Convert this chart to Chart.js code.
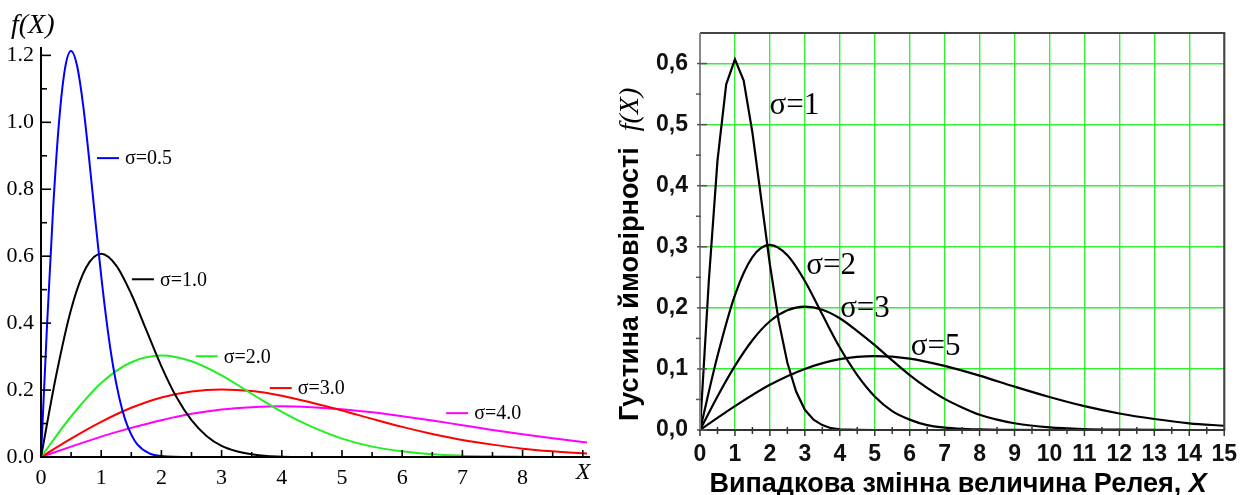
<!DOCTYPE html>
<html>
<head>
<meta charset="utf-8">
<script src="https://cdn.jsdelivr.net/npm/chart.js@4.4.1/dist/chart.umd.min.js"></script>
<style>
  html, body { margin: 0; padding: 0; background: #fff; }
  #wrap { position: relative; width: 1248px; height: 495px; overflow: hidden; }
  canvas { position: absolute; top: 0; }
  #left { left: 0; }
  #right { left: 600px; }
</style>
</head>
<body>
<div id="wrap">
  <canvas id="left" width="600" height="495"></canvas>
  <canvas id="right" width="648" height="495"></canvas>
</div>
<script>
// ---------- Left panel: Rayleigh densities, sigma = 0.5 .. 4.0 ----------
const leftX05 = [0, 0.1, 0.2, 0.3, 0.4, 0.5, 0.6, 0.7, 0.8, 0.9, 1.0, 1.1, 1.2, 1.3, 1.4, 1.5, 1.6, 1.8, 2.0, 2.5, 3, 4, 5, 6, 7, 8, 9, 9.1];
const leftY05 = [0, 0.392, 0.738, 1.002, 1.162, 1.213, 1.168, 1.051, 0.890, 0.712, 0.541, 0.391, 0.269, 0.177, 0.111, 0.067, 0.038, 0.011, 0.003, 0, 0, 0, 0, 0, 0, 0, 0, 0];

const leftX10 = [0, 0.25, 0.5, 0.75, 1, 1.25, 1.5, 1.75, 2, 2.25, 2.5, 2.75, 3, 3.25, 3.5, 3.75, 4, 4.5, 5, 6, 7, 8, 9, 9.1];
const leftY10 = [0, 0.242, 0.441, 0.566, 0.607, 0.572, 0.487, 0.379, 0.271, 0.179, 0.110, 0.063, 0.033, 0.017, 0.008, 0.003, 0.001, 0.0002, 0, 0, 0, 0, 0, 0];

const leftX20 = [0, 0.5, 1, 1.5, 2, 2.5, 3, 3.5, 4, 4.5, 5, 5.5, 6, 6.5, 7, 7.5, 8, 8.5, 9, 9.1];
const leftY20 = [0, 0.121, 0.221, 0.283, 0.303, 0.286, 0.244, 0.189, 0.135, 0.090, 0.055, 0.031, 0.017, 0.008, 0.004, 0.002, 0.001, 0.0003, 0.0001, 0];

const leftX30 = [0, 0.5, 1, 1.5, 2, 2.5, 3, 3.5, 4, 4.5, 5, 5.5, 6, 6.5, 7, 7.5, 8, 8.5, 9, 9.1];
const leftY30 = [0, 0.055, 0.105, 0.147, 0.178, 0.196, 0.202, 0.197, 0.183, 0.162, 0.139, 0.114, 0.090, 0.069, 0.051, 0.037, 0.025, 0.017, 0.011, 0.010];

const leftX40 = [0, 0.5, 1, 1.5, 2, 2.5, 3, 3.5, 4, 4.5, 5, 5.5, 6, 6.5, 7, 7.5, 8, 8.5, 9, 9.1];
const leftY40 = [0, 0.031, 0.061, 0.087, 0.110, 0.129, 0.142, 0.149, 0.152, 0.149, 0.143, 0.134, 0.122, 0.109, 0.095, 0.081, 0.068, 0.056, 0.045, 0.043];

const leftXTicks = [0, 1, 2, 3, 4, 5, 6, 7, 8, 9];
const leftXLabels = ['0', '1', '2', '3', '4', '5', '6', '7', '8', ''];
const leftYTicks = [0, 0.2, 0.4, 0.6, 0.8, 1.0, 1.2];
const leftYLabels = ['0.0', '0.2', '0.4', '0.6', '0.8', '1.0', '1.2'];

const leftNames = ['σ=0.5', 'σ=1.0', 'σ=2.0', 'σ=3.0', 'σ=4.0'];
const leftColors = ['#0000ff', '#000000', '#22ee22', '#ff0000', '#ff00ff'];
// legend key anchors, in data units
const leftKeyX = [0.93, 1.51, 2.57, 3.80, 6.73];
const leftKeyY = [0.893, 0.531, 0.301, 0.206, 0.131];

// ---------- Right panel: sigma = 1, 2, 3, 5 on a green grid ----------
const rightX1 = [0, 0.25, 0.5, 0.75, 1, 1.25, 1.5, 1.75, 2, 2.25, 2.5, 2.75, 3, 3.25, 3.5, 3.75, 4, 4.5, 5, 15];
const rightY1 = [0, 0.242, 0.441, 0.566, 0.607, 0.572, 0.487, 0.379, 0.271, 0.179, 0.110, 0.063, 0.033, 0.017, 0.008, 0.003, 0.001, 0.0002, 0, 0];

const rightX2 = [0, 0.5, 1, 1.5, 2, 2.5, 3, 3.5, 4, 4.5, 5, 5.5, 6, 6.5, 7, 7.5, 8, 8.5, 9, 10, 11, 12, 13, 14, 15];
const rightY2 = [0, 0.121, 0.221, 0.283, 0.303, 0.286, 0.244, 0.189, 0.135, 0.090, 0.055, 0.031, 0.017, 0.008, 0.004, 0.002, 0.001, 0.0003, 0.0001, 0, 0, 0, 0, 0, 0];

const rightX3 = [0, 0.5, 1, 1.5, 2, 2.5, 3, 3.5, 4, 4.5, 5, 5.5, 6, 6.5, 7, 7.5, 8, 8.5, 9, 10, 11, 12, 13, 14, 15];
const rightY3 = [0, 0.055, 0.105, 0.147, 0.178, 0.196, 0.202, 0.197, 0.183, 0.162, 0.139, 0.114, 0.090, 0.069, 0.051, 0.037, 0.025, 0.017, 0.011, 0.0043, 0.0015, 0.0005, 0.0001, 0, 0];

const rightX5 = [0, 1, 2, 3, 4, 5, 6, 7, 8, 9, 10, 11, 12, 13, 14, 15];
const rightY5 = [0, 0.039, 0.074, 0.100, 0.116, 0.121, 0.117, 0.105, 0.089, 0.071, 0.054, 0.039, 0.027, 0.018, 0.011, 0.007];

const rightXTicks = [0, 1, 2, 3, 4, 5, 6, 7, 8, 9, 10, 11, 12, 13, 14, 15];
const rightYTicks = [0, 0.1, 0.2, 0.3, 0.4, 0.5, 0.6];
const rightYLabels = ['0,0', '0,1', '0,2', '0,3', '0,4', '0,5', '0,6'];

const rightNames = ['σ=1', 'σ=2', 'σ=3', 'σ=5'];
const rightNameX = [1.99, 3.04, 4.01, 6.03];
const rightNameY = [0.518, 0.256, 0.185, 0.123];

const yTitleText = 'Густина ймовірності';
const yTitleVar = 'f(X)';
const xTitleText = 'Випадкова змінна величина Релея, ';
const xTitleVar = 'X';

// ---------- helpers ----------
const SERIF = '"Liberation Serif", "Times New Roman", serif';
const SANS = '"Liberation Sans", Arial, sans-serif';

function pts(xs, ys) { return xs.map((x, i) => ({ x: x, y: ys[i] })); }
function seg(ctx, x1, y1, x2, y2) { ctx.beginPath(); ctx.moveTo(x1, y1); ctx.lineTo(x2, y2); ctx.stroke(); }
function fixTicks(list) { return function (scale) { scale.ticks = list.map(v => ({ value: v })); }; }

// ---------- left chart ----------
const leftDecor = {
  id: 'leftDecor',
  afterDatasetsDraw(chart) {
    const { ctx, chartArea: a, scales: { x, y } } = chart;
    ctx.save();
    ctx.strokeStyle = '#000';
    ctx.lineCap = 'butt';
    ctx.lineWidth = 2;
    seg(ctx, a.left, a.bottom + 1, a.left, a.top);
    seg(ctx, a.left - 1, a.bottom, a.right + 3, a.bottom);
    ctx.lineWidth = 1.6;
    leftYTicks.forEach((v, i) => {
      const p = y.getPixelForValue(v);
      if (v > 0) seg(ctx, a.left, p, a.left + 10, p);
      if (i < leftYTicks.length - 1) {
        const m = y.getPixelForValue((v + leftYTicks[i + 1]) / 2);
        seg(ctx, a.left, m, a.left + 6, m);
      }
    });
    leftXTicks.forEach((v, i) => {
      const p = x.getPixelForValue(v);
      if (v > 0) seg(ctx, p, a.bottom, p, a.bottom - 7);
      if (i < leftXTicks.length - 1) {
        const m = x.getPixelForValue((v + leftXTicks[i + 1]) / 2);
        seg(ctx, m, a.bottom, m, a.bottom - 5);
      }
    });
    // inline legend keys
    ctx.font = '20px ' + SERIF;
    ctx.textAlign = 'left';
    ctx.textBaseline = 'middle';
    leftNames.forEach((t, i) => {
      const px = x.getPixelForValue(leftKeyX[i]);
      const py = y.getPixelForValue(leftKeyY[i]);
      ctx.strokeStyle = leftColors[i];
      ctx.lineWidth = 2;
      seg(ctx, px, py, px + 22, py);
      ctx.fillStyle = '#000';
      ctx.fillText(t, px + 28, py + 1);
    });
    // axis names
    ctx.font = 'italic 28px ' + SERIF;
    ctx.textBaseline = 'alphabetic';
    ctx.fillText('f(X)', a.left - 30, a.top - 14);
    ctx.font = 'italic 24px ' + SERIF;
    ctx.textAlign = 'center';
    ctx.fillText('X', a.right - 4, a.bottom + 22);
    ctx.restore();
  }
};

new Chart(document.getElementById('left'), {
  type: 'line',
  data: {
    datasets: [
      { data: pts(leftX05, leftY05), borderColor: leftColors[0] },
      { data: pts(leftX10, leftY10), borderColor: leftColors[1] },
      { data: pts(leftX20, leftY20), borderColor: leftColors[2] },
      { data: pts(leftX30, leftY30), borderColor: leftColors[3] },
      { data: pts(leftX40, leftY40), borderColor: leftColors[4] }
    ]
  },
  options: {
    responsive: false,
    animation: false,
    devicePixelRatio: 1,
    layout: { padding: { left: 0, right: 13, top: 47, bottom: 0 } },
    elements: {
      point: { radius: 0 },
      line: { borderWidth: 2, fill: false, cubicInterpolationMode: 'monotone' }
    },
    plugins: { legend: { display: false }, tooltip: { enabled: false } },
    scales: {
      x: {
        type: 'linear', min: 0, max: 9.07,
        afterBuildTicks: fixTicks(leftXTicks),
        afterFit(s) { s.height = 38; },
        grid: { display: false, drawTicks: false },
        border: { display: false },
        ticks: { padding: 8, color: '#000', maxRotation: 0, autoSkip: false,
                 font: { family: SERIF, size: 22 }, callback: (v, i) => leftXLabels[i] }
      },
      y: {
        type: 'linear', min: 0, max: 1.225,
        afterBuildTicks: fixTicks(leftYTicks),
        afterFit(s) { s.width = 41; },
        grid: { display: false, drawTicks: false },
        border: { display: false },
        ticks: { padding: 7, color: '#000', autoSkip: false,
                 font: { family: SERIF, size: 22 }, callback: (v, i) => leftYLabels[i] }
      }
    }
  },
  plugins: [leftDecor]
});

// ---------- right chart ----------
const rightDecor = {
  id: 'rightDecor',
  afterDatasetsDraw(chart) {
    const { ctx, chartArea: a, scales: { x, y } } = chart;
    ctx.save();
    ctx.lineCap = 'butt';
    // frame
    ctx.lineWidth = 2;
    ctx.strokeStyle = '#444';
    seg(ctx, a.left, a.top, a.right + 1, a.top);
    seg(ctx, a.right, a.top, a.right, a.bottom);
    ctx.strokeStyle = '#888';
    seg(ctx, a.left, a.bottom, a.left, a.top);
    ctx.strokeStyle = '#333';
    seg(ctx, a.left - 1, a.bottom, a.right + 1, a.bottom);
    // ticks
    ctx.lineWidth = 1.5;
    ctx.strokeStyle = '#555';
    rightYTicks.forEach((v, i) => {
      const p = y.getPixelForValue(v);
      seg(ctx, a.left - 3, p, a.left + 7, p);
      if (i < rightYTicks.length - 1) {
        const m = y.getPixelForValue((v + rightYTicks[i + 1]) / 2);
        seg(ctx, a.left - 4, m, a.left + 1, m);
      }
    });
    ctx.strokeStyle = '#333';
    rightXTicks.forEach((v, i) => {
      const p = x.getPixelForValue(v);
      seg(ctx, p, a.bottom, p, a.bottom + 6);
      if (i < rightXTicks.length - 1) {
        const m = x.getPixelForValue((v + rightXTicks[i + 1]) / 2);
        seg(ctx, m, a.bottom - 3, m, a.bottom + 4);
      }
    });
    // curve names
    ctx.fillStyle = '#000';
    ctx.font = '31px ' + SERIF;
    ctx.textAlign = 'left';
    ctx.textBaseline = 'alphabetic';
    rightNames.forEach((t, i) => {
      ctx.fillText(t, x.getPixelForValue(rightNameX[i]), y.getPixelForValue(rightNameY[i]));
    });
    // x-axis title
    const fMain = 'bold 27px ' + SANS;
    const fVar = 'italic bold 27px ' + SANS;
    ctx.font = fMain;
    const w1 = ctx.measureText(xTitleText).width;
    ctx.font = fVar;
    const w2 = ctx.measureText(xTitleVar).width;
    const cx = (a.left + a.right) / 2 - 4;
    const sx = cx - (w1 + w2) / 2;
    ctx.font = fMain;
    ctx.fillText(xTitleText, sx, 492);
    ctx.font = fVar;
    ctx.fillText(xTitleVar, sx + w1, 492);
    // y-axis title, rotated
    ctx.save();
    ctx.translate(38, 421);
    ctx.rotate(-Math.PI / 2);
    ctx.font = fMain;
    const w3 = ctx.measureText(yTitleText).width;
    ctx.fillText(yTitleText, 0, 0);
    ctx.font = 'italic 28px ' + SERIF;
    ctx.fillText(yTitleVar, w3 + 16, 0);
    ctx.restore();
    ctx.restore();
  }
};

new Chart(document.getElementById('right'), {
  type: 'line',
  data: {
    datasets: [
      { data: pts(rightX1, rightY1), tension: 0, cubicInterpolationMode: 'default' },
      { data: pts(rightX2, rightY2) },
      { data: pts(rightX3, rightY3) },
      { data: pts(rightX5, rightY5) }
    ]
  },
  options: {
    responsive: false,
    animation: false,
    devicePixelRatio: 1,
    layout: { padding: { left: 0, right: 21, top: 33, bottom: 0 } },
    elements: {
      point: { radius: 0 },
      line: { borderWidth: 2.2, borderColor: '#000', fill: false, cubicInterpolationMode: 'monotone' }
    },
    plugins: { legend: { display: false }, tooltip: { enabled: false } },
    scales: {
      x: {
        type: 'linear', min: 0, max: 15,
        afterBuildTicks: fixTicks(rightXTicks),
        afterFit(s) { s.height = 65; },
        grid: { display: true, drawTicks: false, color: '#33f033', lineWidth: 1.4 },
        border: { display: false },
        ticks: { padding: 11, color: '#111', maxRotation: 0, autoSkip: false,
                 font: { family: SANS, size: 23, weight: 'bold' }, callback: v => String(v) }
      },
      y: {
        type: 'linear', min: 0, max: 0.65,
        afterBuildTicks: fixTicks(rightYTicks),
        afterFit(s) { s.width = 100; },
        grid: { display: true, drawTicks: false, color: '#33f033', lineWidth: 1.4 },
        border: { display: false },
        ticks: { padding: 12, color: '#111', autoSkip: false,
                 font: { family: SANS, size: 23, weight: 'bold' }, callback: (v, i) => rightYLabels[i] }
      }
    }
  },
  plugins: [rightDecor]
});
</script>
</body>
</html>
